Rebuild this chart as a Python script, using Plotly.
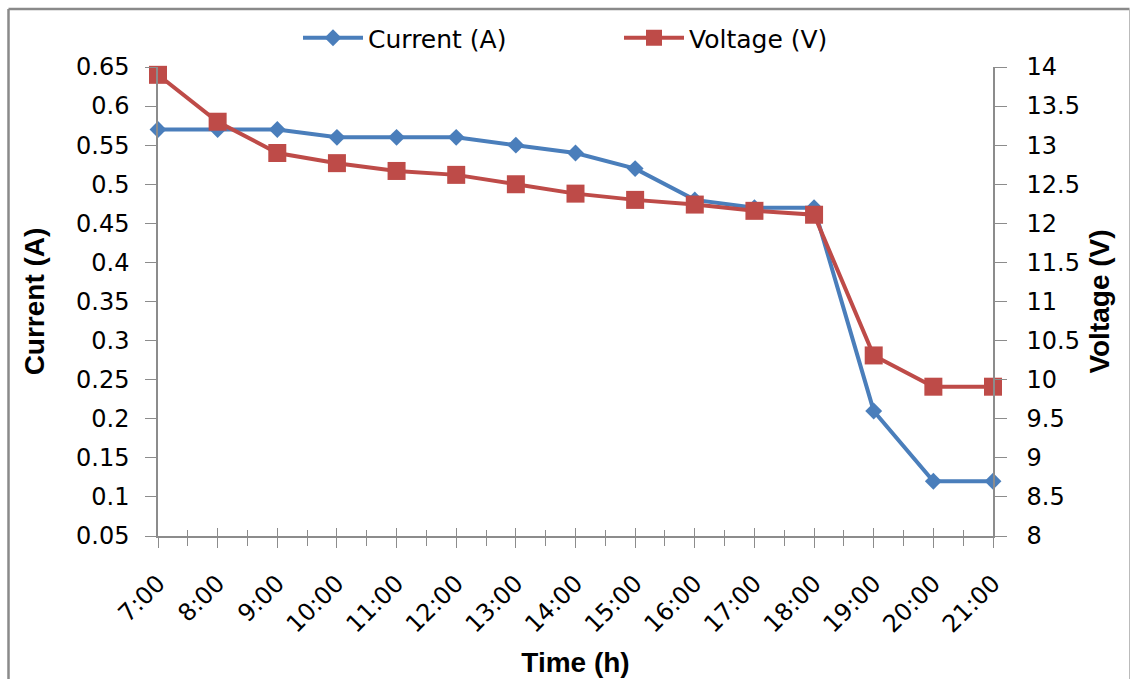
import plotly.graph_objects as go

times = ["7:00", "8:00", "9:00", "10:00", "11:00", "12:00", "13:00", "14:00",
         "15:00", "16:00", "17:00", "18:00", "19:00", "20:00", "21:00"]
current = [0.57, 0.57, 0.57, 0.56, 0.56, 0.56, 0.55, 0.54, 0.52, 0.48, 0.47, 0.47, 0.21, 0.12, 0.12]
voltage = [13.9, 13.3, 12.9, 12.77, 12.67, 12.62, 12.5, 12.38, 12.3, 12.24, 12.16, 12.11, 10.31, 9.91, 9.91]
left_ticks = [0.05, 0.1, 0.15, 0.2, 0.25, 0.3, 0.35, 0.4, 0.45, 0.5, 0.55, 0.6, 0.65]
left_text = ["0.05", "0.1", "0.15", "0.2", "0.25", "0.3", "0.35", "0.4", "0.45", "0.5", "0.55", "0.6", "0.65"]
right_ticks = [8, 8.5, 9, 9.5, 10, 10.5, 11, 11.5, 12, 12.5, 13, 13.5, 14]
right_text = ["8", "8.5", "9", "9.5", "10", "10.5", "11", "11.5", "12", "12.5", "13", "13.5", "14"]

BLUE = "#4A7EBB"
RED = "#BE4B48"
AX = "#8c8c8c"
FONT = "DejaVu Sans"
TFONT = "Liberation Sans"
xpos = list(range(len(times)))

fig = go.Figure()
fig.add_trace(go.Scatter(
    x=xpos, y=current, name="Current (A)", mode="lines+markers",
    line=dict(color=BLUE, width=4),
    marker=dict(symbol="diamond", size=13, color=BLUE),
    yaxis="y", cliponaxis=False))
fig.add_trace(go.Scatter(
    x=xpos, y=voltage, name="Voltage (V)", mode="lines+markers",
    line=dict(color=RED, width=4),
    marker=dict(symbol="square", size=18, color=RED),
    yaxis="y2", cliponaxis=False))

L, R, T, B = 158, 993, 67, 536
W, H = 1131, 679
def px(x):
    return (x - L) / (R - L)
def py(y):
    return (B - y) / (B - T)

fig.update_layout(
    width=W, height=H,
    margin=dict(l=L, r=W - R, t=T, b=H - B),
    paper_bgcolor="white", plot_bgcolor="white",
    font=dict(family=FONT, size=24, color="black"),
    showlegend=True,
    legend=dict(orientation="h", x=px(298), y=py(38), xanchor="left", yanchor="middle",
                font=dict(size=25), itemwidth=60, tracegroupgap=0,
                entrywidthmode="pixels", entrywidth=246, bgcolor="rgba(0,0,0,0)"),
    xaxis=dict(
        range=[0, len(times) - 1], tickvals=xpos, ticktext=times,
        tickangle=-45, showgrid=False, zeroline=False, automargin=False,
        showline=True, linecolor=AX, linewidth=1.5,
        ticks="outside", ticklen=10, tickcolor=AX, tickwidth=1.2,
        minor=dict(dtick=0.5, tick0=0, ticks="outside", ticklen=8, tickcolor=AX, tickwidth=1.2),
        tickfont=dict(size=24), ticklabelstandoff=12,
        title=dict(text="<b>Time (h)</b>", font=dict(family=TFONT, size=28), standoff=15)),
    xaxis2=dict(
        range=[0, len(times) - 1], overlaying="x", anchor="y", side="bottom",
        showgrid=False, zeroline=False, showline=False, showticklabels=False,
        automargin=False, tickvals=xpos,
        ticks="inside", ticklen=8, tickcolor=AX, tickwidth=1.2,
        minor=dict(dtick=0.5, tick0=0, ticks="inside", ticklen=6, tickcolor=AX, tickwidth=1.2)),
    yaxis=dict(
        range=[0.05, 0.65], tickvals=left_ticks, ticktext=left_text,
        showgrid=False, zeroline=False, automargin=False,
        showline=True, linecolor=AX, linewidth=1.5,
        ticks="outside", ticklen=11, tickcolor=AX, tickwidth=1.2,
        tickfont=dict(size=24), ticklabelstandoff=11,
        title=dict(text="<b>Current (A)</b>", font=dict(family=TFONT, size=28), standoff=23)),
    yaxis2=dict(
        range=[8, 14], tickvals=right_ticks, ticktext=right_text,
        overlaying="y", side="right", showgrid=False, zeroline=False, automargin=False,
        showline=True, linecolor=AX, linewidth=1.5,
        ticks="outside", ticklen=12, tickcolor=AX, tickwidth=1.2,
        tickfont=dict(size=24), ticklabelstandoff=15,
        title=dict(text="<b>Voltage (V)</b>", font=dict(family=TFONT, size=28), standoff=10)),
    shapes=[
        dict(type="line", xref="paper", yref="paper", x0=px(8.5), x1=px(8.5), y0=py(9), y1=py(700),
             line=dict(color="#8a8a8a", width=2.5)),
        dict(type="line", xref="paper", yref="paper", x0=px(8.5), x1=px(1129.5), y0=py(9), y1=py(9),
             line=dict(color="#8a8a8a", width=2.5)),
        dict(type="line", xref="paper", yref="paper", x0=px(1129.5), x1=px(1129.5), y0=py(9), y1=py(700),
             line=dict(color="#bbbbbb", width=1)),
    ],
)

fig.add_trace(go.Scatter(x=[None], y=[None], xaxis="x2", yaxis="y", showlegend=False, hoverinfo="skip"))

fig.write_html("out.html")
